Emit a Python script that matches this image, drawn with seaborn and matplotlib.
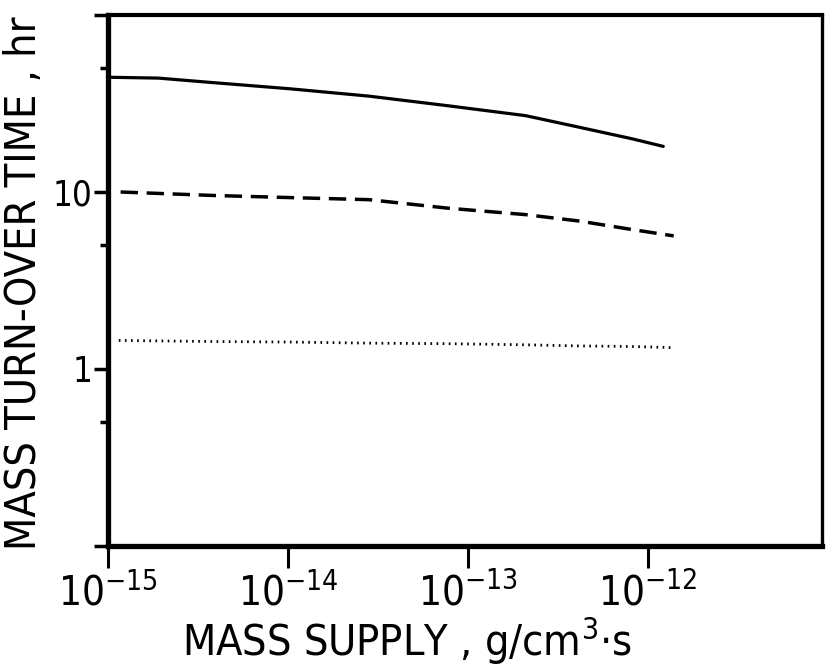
import numpy as np
import pandas as pd
import matplotlib
matplotlib.use("Agg")
import matplotlib.pyplot as plt
import matplotlib.ticker as mticker
import seaborn as sns

# ---- data (log-log) ----
solid_x = [1e-15, 10**-14.72, 10**-14.43, 10**-13.99, 10**-13.55, 10**-13.11, 10**-12.68, 10**-12.38, 10**-12.09, 10**-11.915]
solid_y = [44.5, 44.0, 41.6, 38.3, 34.8, 30.7, 27.0, 23.2, 20.0, 18.1]

dashed_x = [10**-14.93, 10**-14.43, 10**-13.99, 10**-13.55, 10**-13.11, 10**-12.68, 10**-12.38, 10**-12.09, 10**-11.857]
dashed_y = [10.0, 9.57, 9.3, 9.05, 8.1, 7.45, 6.85, 6.14, 5.65]

dotted_x = [10**-14.94, 10**-14.43, 10**-13.99, 10**-13.55, 10**-13.11, 10**-12.68, 10**-12.38, 10**-12.09, 10**-11.86]
dotted_y = [1.45, 1.43, 1.42, 1.40, 1.39, 1.37, 1.35, 1.34, 1.32]

x_ticks = [1e-15, 1e-14, 1e-13, 1e-12]
x_tick_labels = [r"$10^{-15}$", r"$10^{-14}$", r"$10^{-13}$", r"$10^{-12}$"]
y_ticks = [0.1, 1, 10, 100]
y_tick_labels = ["", "1", "10", ""]
y_minor = [0.5, 5, 50]

sns.set_style("white")
plt.rcParams['font.family'] = ['DejaVu Sans']
plt.rcParams['font.stretch'] = 'condensed'
plt.rcParams['mathtext.fontset'] = 'custom'
plt.rcParams['mathtext.rm'] = 'DejaVu Sans:stretch=condensed'
plt.rcParams['mathtext.it'] = 'DejaVu Sans:stretch=condensed'
plt.rcParams['mathtext.sf'] = 'DejaVu Sans:stretch=condensed'
for k in ['text.color', 'axes.labelcolor', 'xtick.color', 'ytick.color']:
    plt.rcParams[k] = 'black'

fig = plt.figure(figsize=(8.26, 6.72), dpi=100)
ax = fig.add_axes([108/826, 1-546/672, (822-108)/826, (546-15)/672])

df = pd.concat([
    pd.DataFrame({"x": solid_x, "y": solid_y, "s": "solid"}),
    pd.DataFrame({"x": dashed_x, "y": dashed_y, "s": "dashed"}),
    pd.DataFrame({"x": dotted_x, "y": dotted_y, "s": "dotted"}),
])

sns.lineplot(data=df[df.s == "solid"], x="x", y="y", ax=ax, color="black", lw=2.3, legend=False)
sns.lineplot(data=df[df.s == "dashed"], x="x", y="y", ax=ax, color="black", lw=2.5, legend=False,
             linestyle=(0, (5, 2.5)))
sns.lineplot(data=df[df.s == "dotted"], x="x", y="y", ax=ax, color="black", lw=2.0, legend=False,
             linestyle=(0, (0.6, 1.6)))

ax.set_xscale("log")
ax.set_yscale("log")
ax.set_xlim(1e-15, 10**-11.033)
ax.set_ylim(0.1, 100)

ax.xaxis.set_major_locator(mticker.FixedLocator(x_ticks))
ax.xaxis.set_major_formatter(mticker.FixedFormatter(x_tick_labels))
ax.xaxis.set_minor_locator(mticker.NullLocator())
ax.yaxis.set_major_locator(mticker.FixedLocator(y_ticks))
ax.yaxis.set_major_formatter(mticker.FixedFormatter(y_tick_labels))
ax.yaxis.set_minor_locator(mticker.FixedLocator(y_minor))
ax.yaxis.set_minor_formatter(mticker.NullFormatter())

for side, lw in [("left", 3.8), ("bottom", 3.8), ("top", 3.0), ("right", 2.4)]:
    ax.spines[side].set_linewidth(lw)
    ax.spines[side].set_color("black")

ax.tick_params(axis="x", which="major", direction="out", length=16, width=2.2,
               labelsize=29, pad=4, bottom=True)
ax.tick_params(axis="y", which="major", direction="out", length=10, width=2.5,
               labelsize=25, pad=1, left=True)
ax.tick_params(axis="y", which="minor", direction="out", length=6, width=2.5, left=True)

ax.set_xlabel(r"MASS SUPPLY , g/cm$^{3}$$\cdot$s", fontsize=31)
ax.xaxis.set_label_coords(0.419, -0.13)
ax.set_ylabel("MASS TURN-OVER TIME , hr", fontsize=31)
ax.yaxis.set_label_coords(-0.088, 0.495)

fig.savefig("out.png", dpi=100, facecolor="white")
